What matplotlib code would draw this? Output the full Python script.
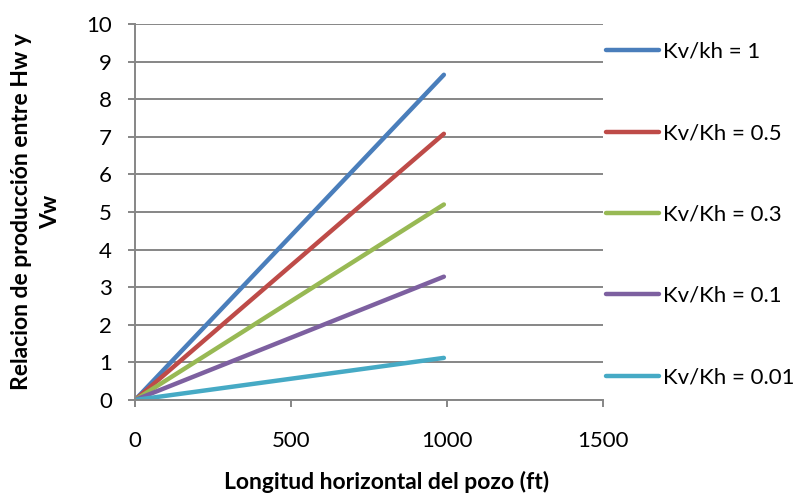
"""Relacion de produccion Hw/Vw vs longitud horizontal del pozo."""

import matplotlib
matplotlib.use('Agg')

import matplotlib.pyplot as plt

# Data
longitud = [0, 990]
series = {
    'Kv/kh = 1': [0, 8.65],
    'Kv/Kh = 0.5': [0, 7.08],
    'Kv/Kh = 0.3': [0, 5.2],
    'Kv/Kh = 0.1': [0, 3.28],
    'Kv/Kh = 0.01': [0, 1.12],
}
colors = ['#4A7EBB', '#BE4B48', '#98B954', '#7D60A0', '#46AAC5']

x_ticks = [0, 500, 1000, 1500]
y_ticks = list(range(0, 11))

plt.rcParams['font.family'] = ['Lato', 'DejaVu Sans']

W, H = 796, 497
fs = 16
fig = plt.figure(figsize=(W / 100, H / 100), dpi=100)
ax = fig.add_axes([135 / W, (H - 400) / H, (603 - 135) / W, (400 - 24) / H])

for (label, values), color in zip(series.items(), colors):
    ax.plot(longitud, values, color=color, lw=3.2, label=label,
            solid_capstyle='round')

grid_color = '#868686'
ax.set_xlim(0, 1500)
ax.set_ylim(0, 10)
ax.set_xticks(x_ticks)
ax.set_yticks(y_ticks)
ax.yaxis.grid(True, color=grid_color, lw=1.4)
ax.set_axisbelow(True)
for side in ('top', 'right'):
    ax.spines[side].set_visible(False)
for side in ('left', 'bottom'):
    ax.spines[side].set_color(grid_color)
    ax.spines[side].set_linewidth(1.4)
ax.tick_params(axis='both', colors=grid_color, width=1.4, length=5,
               labelcolor='black', labelsize=fs)
ax.tick_params(axis='y', pad=11.5)
ax.tick_params(axis='x', pad=17)

# Legend to the right of the plot area
fig.legend(loc='upper left', bbox_to_anchor=(606 / W, (H - 42) / H),
           frameon=False, fontsize=fs, handlelength=2.4,
           handletextpad=0.15, labelspacing=2.76, borderpad=0,
           borderaxespad=0)

fig.text(36 / W, (H - 212) / H, 'Relacion de producción entre Hw y\nVw',
         rotation=90, ha='center', va='center', ma='center',
         fontsize=16.5, fontweight='bold', linespacing=1.45)
fig.text(387 / W, 15 / H, 'Longitud horizontal del pozo (ft)',
         ha='center', va='center', fontsize=16.5, fontweight='bold')

fig.savefig('out.png', dpi=100)
